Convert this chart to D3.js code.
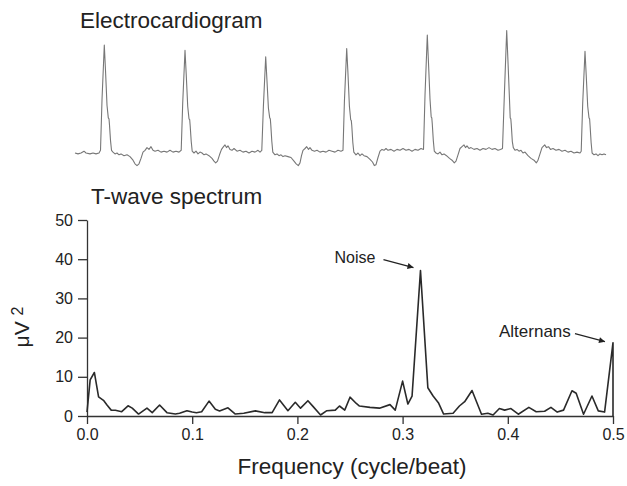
<!DOCTYPE html>
<html>
<head>
<meta charset="utf-8">
<script src="https://cdn.jsdelivr.net/npm/d3@7"></script>
<style>
  body { margin: 0; background: #fff; }
  text { font-family: "Liberation Sans", Arial, sans-serif; }
</style>
</head>
<body>
<div id="chart"></div>
<script>
// ECG trace: [time (ms), amplitude (mV)]
const ecgTrace = [
  [0,0],[30,-0.01],[60,0],[90,0.02],[110,0],[150,-0.01],[180,0],[210,-0.01],[240,0],[255,0.03],
  [270,0.59],[293,1.2],[305,0.92],[320,0.53],[333,0.39],[340,0.38],[345,0.31],[355,0.14],[365,0.03],
  [380,0.01],[400,-0.01],[420,0],[440,-0.02],[460,-0.01],[490,-0.03],[520,-0.02],[550,-0.04],[580,-0.08],
  [600,-0.12],[620,-0.14],[640,-0.12],[660,-0.06],[680,0.01],[700,0.03],[720,0.06],[740,0.04],[760,0.07],
  [780,0.03],[800,0.02],[830,0.03],[860,0.01],[890,0.02],[920,0.01],[950,0.03],[980,0.01],[1010,0.02],
  [1040,0.01],[1062,0.03],
  [1077,0.55],[1100,1.14],[1112,0.88],[1127,0.52],[1140,0.38],[1147,0.37],[1152,0.3],[1162,0.13],[1172,0.02],
  [1190,0],[1210,0.02],[1230,-0.01],[1250,0.01],[1270,0],[1290,-0.02],[1310,-0.01],[1340,-0.03],[1370,-0.06],
  [1390,-0.09],[1407,-0.11],[1425,-0.09],[1445,-0.02],[1465,0.04],[1485,0.07],[1500,0.09],[1515,0.06],
  [1530,0.08],[1550,0.04],[1570,0.03],[1590,0.05],[1620,0.02],[1650,0.03],[1680,0.01],[1710,0.02],[1740,0],
  [1770,0.02],[1800,0.01],[1830,0.03],[1850,0.01],[1868,0.03],
  [1884,0.52],[1907,1.07],[1919,0.82],[1934,0.5],[1947,0.39],[1953,0.38],[1958,0.31],[1968,0.13],[1978,0.01],
  [2000,-0.02],[2020,-0.01],[2040,-0.03],[2060,-0.02],[2080,-0.04],[2100,-0.03],[2130,-0.04],[2160,-0.05],
  [2190,-0.09],[2212,-0.12],[2233,-0.14],[2250,-0.11],[2265,-0.03],[2280,0.03],[2300,0.05],[2317,0.07],
  [2335,0.04],[2350,0.06],[2370,0.03],[2395,0.02],[2420,0.03],[2450,0.01],[2480,0.02],[2510,0.01],[2540,0.03],
  [2570,0.02],[2600,0.01],[2630,0.03],[2660,0.02],[2680,0.03],
  [2694,0.57],[2717,1.16],[2729,0.9],[2744,0.52],[2757,0.37],[2763,0.36],[2768,0.3],[2778,0.12],[2788,0.01],
  [2810,-0.02],[2830,0],[2850,-0.03],[2870,-0.01],[2890,-0.03],[2920,-0.04],[2950,-0.07],[2975,-0.1],
  [2993,-0.14],[3010,-0.13],[3030,-0.05],[3050,0.02],[3070,0.04],[3090,0.03],[3110,0.05],[3130,0.03],
  [3160,0.04],[3190,0.02],[3220,0.04],[3250,0.03],[3280,0.05],[3310,0.03],[3340,0.04],[3370,0.02],[3400,0.04],
  [3430,0.03],[3460,0.05],[3485,0.04],
  [3500,0.64],[3523,1.31],[3535,1.0],[3550,0.6],[3562,0.4],[3568,0.39],[3573,0.32],[3583,0.14],[3593,0.02],
  [3610,0],[3630,-0.01],[3650,0.01],[3670,-0.02],[3690,-0.01],[3715,-0.03],[3745,-0.06],[3770,-0.08],
  [3793,-0.11],[3810,-0.09],[3830,-0.02],[3850,0.05],[3870,0.07],[3890,0.09],[3905,0.06],[3920,0.08],
  [3940,0.05],[3960,0.06],[3990,0.04],[4020,0.05],[4050,0.03],[4080,0.05],[4110,0.04],[4140,0.06],[4170,0.04],
  [4200,0.05],[4230,0.03],[4255,0.04],[4275,0.05],
  [4294,0.66],[4317,1.36],[4329,1.04],[4344,0.62],[4352,0.39],[4358,0.38],[4363,0.31],[4373,0.13],[4383,0.06],
  [4400,0.03],[4420,0.04],[4440,0.02],[4460,0.03],[4480,0],[4500,0.01],[4530,-0.03],[4560,-0.06],[4590,-0.08],
  [4613,-0.11],[4630,-0.08],[4650,-0.01],[4670,0.06],[4697,0.09],[4715,0.06],[4735,0.07],[4755,0.04],
  [4780,0.05],[4810,0.03],[4840,0.04],[4870,0.02],[4900,0.03],[4930,0.01],[4960,0.02],[4990,0],[5020,0.01],
  [5050,0],[5062,0.02],
  [5077,0.55],[5100,1.13],[5112,0.87],[5127,0.52],[5140,0.39],[5146,0.38],[5151,0.3],[5161,0.12],[5171,0],
  [5190,-0.02],[5210,-0.01],[5230,-0.03],[5250,-0.01],[5270,-0.02],[5290,-0.01],[5310,-0.02]
];

// T-wave spectrum: [frequency (cycle/beat), power (uV^2)]
const spectrum = [
  [0,1.0],[0.003,9.2],[0.007,11.1],[0.011,4.9],[0.016,3.9],[0.019,2.8],[0.023,1.5],[0.027,1.45],[0.033,1.1],
  [0.039,2.6],[0.043,2.0],[0.049,0.5],[0.057,2.0],[0.062,0.85],[0.069,2.8],[0.076,0.85],[0.084,0.5],[0.088,0.7],
  [0.095,1.35],[0.1,1.0],[0.104,0.85],[0.109,1.1],[0.116,3.8],[0.122,1.7],[0.126,1.3],[0.134,2.1],[0.141,0.5],
  [0.149,0.7],[0.16,1.3],[0.169,0.85],[0.176,0.85],[0.183,4.1],[0.191,1.35],[0.198,3.5],[0.203,2.0],[0.21,3.9],
  [0.215,2.4],[0.222,0.25],[0.228,1.35],[0.236,1.5],[0.24,2.55],[0.245,1.5],[0.25,4.8],[0.256,3.2],[0.259,2.55],
  [0.269,2.2],[0.278,2.0],[0.288,2.9],[0.293,1.5],[0.3,8.9],[0.305,3.05],[0.309,5.1],[0.317,37.1],[0.324,7.2],
  [0.329,5.1],[0.334,3.4],[0.339,0.5],[0.348,0.7],[0.354,2.55],[0.359,3.65],[0.366,6.5],[0.375,0.45],
  [0.381,0.7],[0.386,0.25],[0.392,1.9],[0.397,1.5],[0.403,1.9],[0.41,0.45],[0.42,2.2],[0.427,1.1],[0.435,1.2],
  [0.441,2.2],[0.447,1.0],[0.453,1.5],[0.461,6.45],[0.465,5.8],[0.472,0.45],[0.48,5.1],[0.486,1.3],[0.492,1.0],
  [0.5,18.7],[0.5,0]
];

const xTicks = [0, 0.1, 0.2, 0.3, 0.4, 0.5];
const yTicks = [0, 10, 20, 30, 40, 50];

// annotated peaks: [label, frequency, power]
const annotations = [
  ["Noise", 0.317, 37.1],
  ["Alternans", 0.5, 18.7]
];

const width = 627;
const height = 486;

const svg = d3.select("#chart")
  .append("svg")
  .attr("width", width)
  .attr("height", height);

svg.append("rect").attr("width", width).attr("height", height).attr("fill", "#fff");

svg.append("defs").append("marker")
  .attr("id", "arrow")
  .attr("viewBox", "0 0 10 10")
  .attr("refX", 10)
  .attr("refY", 5)
  .attr("markerWidth", 9)
  .attr("markerHeight", 6)
  .attr("markerUnits", "userSpaceOnUse")
  .attr("orient", "auto")
  .append("path")
  .attr("d", "M0,0L10,5L0,10z")
  .attr("fill", "#222");

// ECG ---------------------------------------------------------------
const xEcg = d3.scaleLinear().domain([0, 5310]).range([75, 606]);
const yEcg = d3.scaleLinear().domain([0, 1]).range([153, 63]);

svg.append("text")
  .text("Electrocardiogram")
  .attr("x", 80)
  .attr("y", 28)
  .style("font-size", "22.5px")
  .attr("fill", "#222");

svg.append("path")
  .datum(ecgTrace)
  .attr("d", d3.line().x(d => xEcg(d[0])).y(d => yEcg(d[1])))
  .attr("fill", "none")
  .attr("stroke", "#777")
  .attr("stroke-width", 1.1)
  .attr("stroke-linejoin", "round");

// Spectrum ----------------------------------------------------------
const x = d3.scaleLinear().domain([0, 0.5]).range([87, 613]);
const y = d3.scaleLinear().domain([0, 50]).range([416, 220]);

svg.append("text")
  .text("T-wave spectrum")
  .attr("x", 91)
  .attr("y", 204)
  .style("font-size", "22.5px")
  .attr("fill", "#222");

const yAxis = svg.append("g")
  .attr("transform", "translate(" + x(0) + ",0)")
  .call(d3.axisLeft(y).tickValues(yTicks).tickSize(9).tickPadding(5).tickSizeOuter(0));

const xAxis = svg.append("g")
  .attr("transform", "translate(0," + y(0) + ")")
  .call(d3.axisBottom(x).tickValues(xTicks).tickFormat(d3.format(".1f")).tickSize(8).tickPadding(5).tickSizeOuter(0));

[xAxis, yAxis].forEach(function(a) {
  a.selectAll("path, line").attr("stroke", "#333").attr("stroke-width", 1.3);
  a.selectAll("text")
    .style("font-size", "16px")
    .style("font-family", "'Liberation Sans', Arial, sans-serif")
    .attr("fill", "#222");
});

svg.append("path")
  .datum(spectrum)
  .attr("d", d3.line().x(d => x(d[0])).y(d => y(d[1])))
  .attr("fill", "none")
  .attr("stroke", "#2a2a2a")
  .attr("stroke-width", 1.6)
  .attr("stroke-linejoin", "round");

svg.append("text")
  .attr("transform", "translate(29,327) rotate(-90)")
  .style("text-anchor", "middle")
  .style("font-size", "21px")
  .attr("fill", "#222")
  .call(t => t.append("tspan").text("\u03bcV "))
  .call(t => t.append("tspan").text("2").attr("dy", -6).style("font-size", "16px"));

svg.append("text")
  .text("Frequency (cycle/beat)")
  .attr("x", 352)
  .attr("y", 474)
  .style("text-anchor", "middle")
  .style("font-size", "22.5px")
  .attr("fill", "#222");

// Annotations
const noise = annotations[0];
const alt = annotations[1];

svg.append("text")
  .text(noise[0])
  .attr("x", x(noise[1]) - 86)
  .attr("y", y(noise[2]) - 8)
  .style("font-size", "16px")
  .attr("fill", "#222");

svg.append("line")
  .attr("x1", x(noise[1]) - 37)
  .attr("y1", y(noise[2]) - 11)
  .attr("x2", x(noise[1]) - 7)
  .attr("y2", y(noise[2]) - 3)
  .attr("stroke", "#222")
  .attr("stroke-width", 1.2)
  .attr("marker-end", "url(#arrow)");

svg.append("text")
  .text(alt[0])
  .attr("x", x(alt[1]) - 114)
  .attr("y", y(alt[2]) - 6)
  .style("font-size", "17px")
  .attr("fill", "#222");

svg.append("line")
  .attr("x1", x(alt[1]) - 38)
  .attr("y1", y(alt[2]) - 9)
  .attr("x2", x(alt[1]) - 8)
  .attr("y2", y(alt[2]) - 1)
  .attr("stroke", "#222")
  .attr("stroke-width", 1.2)
  .attr("marker-end", "url(#arrow)");
</script>
</body>
</html>
